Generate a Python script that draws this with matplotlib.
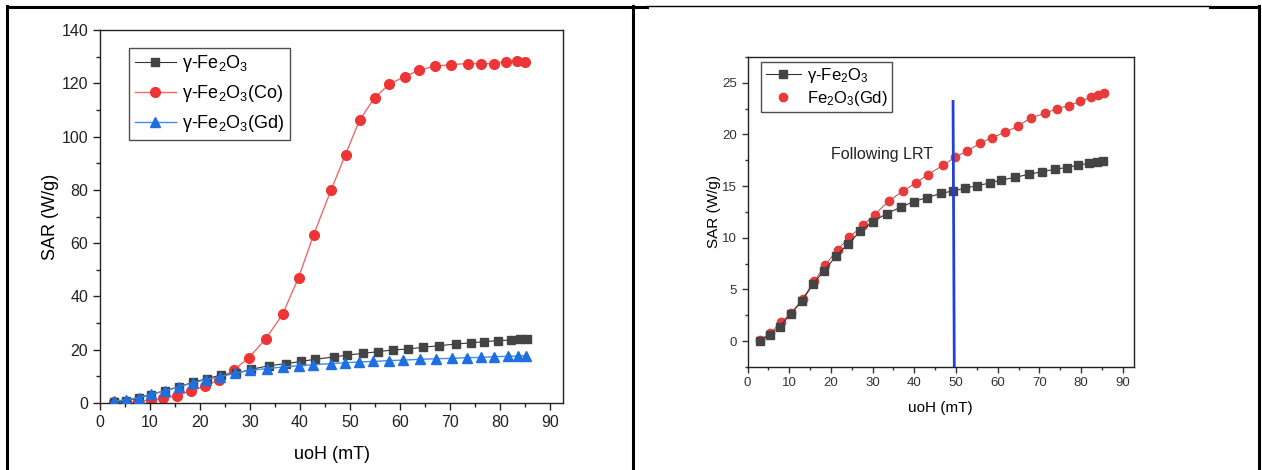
import matplotlib
matplotlib.use("Agg")
import matplotlib.pyplot as plt
from matplotlib.lines import Line2D
from matplotlib.ticker import MultipleLocator

plt.rcParams['font.family'] = ['Liberation Sans', 'DejaVu Sans']
plt.rcParams['mathtext.fontset'] = 'custom'
plt.rcParams['mathtext.rm'] = 'Liberation Sans'
plt.rcParams['mathtext.it'] = 'Liberation Sans:italic'
plt.rcParams['mathtext.bf'] = 'Liberation Sans:bold'

# ---------------- Left panel data ----------------
left_x_fe = [2.8, 5.1, 7.7, 10.2, 12.9, 15.7, 18.5, 21.3, 24.2, 27.1, 30.1, 33.8, 37.1, 40.2, 43.0,
             46.7, 49.4, 52.5, 55.5, 58.5, 61.5, 64.6, 67.7, 71.1, 74.2, 76.8, 79.5, 82.1, 83.9, 85.4]
left_y_fe = [0.3, 0.9, 1.9, 3.1, 4.6, 6.0, 7.75, 9.1, 10.5, 11.1, 12.6, 14.0, 14.75, 15.6, 16.4,
             17.25, 18.0, 18.6, 19.25, 19.9, 20.25, 20.9, 21.5, 22.1, 22.6, 23.0, 23.4, 23.6, 23.9, 24.0]

left_x_co = [2.8, 5.2, 7.6, 10.1, 12.6, 15.3, 18.1, 21.0, 23.8, 26.8, 29.8, 33.1, 36.5, 39.7, 42.7,
             46.2, 49.1, 51.9, 54.9, 57.8, 60.9, 63.8, 66.9, 70.2, 73.5, 76.2, 78.7, 81.1, 83.3, 84.9]
left_y_co = [0.3, 0.25, 0.6, 1.1, 1.7, 2.75, 4.5, 6.25, 8.75, 12.5, 17.0, 24.0, 33.25, 47.0, 63.0,
             79.9, 93.25, 106.1, 114.5, 119.6, 122.5, 124.9, 126.4, 127.0, 127.4, 127.4, 127.4, 128.1, 128.4, 127.9]

left_x_gd = [2.8, 5.1, 7.7, 10.2, 12.9, 15.7, 18.5, 21.1, 24.0, 27.0, 29.9, 33.3, 36.5, 39.7, 42.6,
             46.2, 49.0, 51.8, 54.6, 57.7, 60.6, 63.9, 67.1, 70.3, 73.3, 76.2, 78.7, 81.5, 83.5, 85.1]
left_y_gd = [0.6, 1.25, 2.0, 3.4, 4.4, 6.1, 7.5, 8.75, 9.9, 11.1, 12.25, 12.9, 13.5, 14.0, 14.4,
             14.75, 15.1, 15.4, 15.6, 15.9, 16.1, 16.4, 16.6, 16.75, 17.0, 17.1, 17.4, 17.5, 17.6, 17.75]

left_labels = [r'γ-Fe$_2$O$_3$', r'γ-Fe$_2$O$_3$(Co)', r'γ-Fe$_2$O$_3$(Gd)']

# ---------------- Right panel data ----------------
right_x_fe = [3.06, 5.35, 7.7, 10.4, 13.0, 15.7, 18.3, 21.3, 24.1, 27.1, 30.0, 33.4, 36.9, 39.9, 43.0,
              46.4, 49.4, 52.1, 55.0, 58.1, 60.9, 64.2, 67.4, 70.7, 73.8, 76.6, 79.3, 81.9, 83.9, 85.3]
right_y_fe = [0.06, 0.6, 1.4, 2.65, 3.85, 5.5, 6.8, 8.25, 9.4, 10.65, 11.55, 12.35, 13.0, 13.5, 13.9,
              14.3, 14.55, 14.8, 15.05, 15.3, 15.6, 15.85, 16.15, 16.4, 16.65, 16.8, 17.05, 17.2, 17.3, 17.4]

right_x_gd = [3.06, 5.5, 8.0, 10.5, 13.2, 16.0, 18.7, 21.6, 24.4, 27.7, 30.5, 34.0, 37.2, 40.3, 43.2,
              47.0, 49.8, 52.7, 55.8, 58.6, 61.8, 64.8, 67.9, 71.3, 74.3, 77.0, 79.8, 82.4, 84.0, 85.6]
right_y_gd = [0.13, 0.8, 1.84, 2.7, 4.1, 5.8, 7.4, 8.85, 10.05, 11.2, 12.25, 13.6, 14.5, 15.3, 16.1,
              17.05, 17.8, 18.4, 19.15, 19.7, 20.2, 20.8, 21.6, 22.05, 22.5, 22.8, 23.2, 23.6, 23.85, 24.0]

right_labels = [r'γ-Fe$_2$O$_3$', r'Fe$_2$O$_3$(Gd)']
lrt_x = [49.3, 49.6]
lrt_y = [23.2, -2.6]
lrt_text = 'Following LRT'

xlabel = 'uoH (mT)'
ylabel = 'SAR (W/g)'

W, H = 1262, 470
fig = plt.figure(figsize=(W / 100, H / 100), dpi=100)


def style_axes(ax, fs_tick, major_len, minor_len, xminor, yminor, color):
    ax.xaxis.set_minor_locator(MultipleLocator(xminor))
    ax.yaxis.set_minor_locator(MultipleLocator(yminor))
    ax.tick_params(which='both', direction='out', top=False, right=False,
                   labelsize=fs_tick, width=1.0, colors=color)
    ax.tick_params(which='major', length=major_len)
    ax.tick_params(which='minor', length=minor_len)
    for s in ax.spines.values():
        s.set_linewidth(1.0)
        s.set_color('#222222')


# ---------------- Left axes ----------------
axL = fig.add_axes([100 / W, 1 - 403 / H, 463 / W, 373 / H])
axL.plot(left_x_fe, left_y_fe, color='#333333', lw=0.8, marker='s', ms=6.2,
         mfc='#444444', mec='#444444', label=left_labels[0], zorder=3)
axL.plot(left_x_co, left_y_co, color='#f06a6a', lw=1.0, marker='o', ms=7.0,
         mfc='#ee3535', mec='#ee3535', label=left_labels[1], zorder=2)
axL.plot(left_x_gd, left_y_gd, color='#3c8ee8', lw=1.0, marker='^', ms=7.0,
         mfc='#1f6fe0', mec='#1f6fe0', label=left_labels[2], zorder=4)
axL.set_xlim(0, 92.6)
axL.set_ylim(0, 140)
axL.xaxis.set_major_locator(MultipleLocator(10))
axL.yaxis.set_major_locator(MultipleLocator(20))
style_axes(axL, 11.5, 5, 3, 5, 10, '#222222')
axL.set_xlabel(xlabel, fontsize=13, labelpad=12)
axL.set_ylabel(ylabel, fontsize=13, labelpad=2)
legL = axL.legend(loc='upper left', bbox_to_anchor=(0.063, 0.952), borderaxespad=0,
                  fontsize=13, frameon=True, fancybox=False, edgecolor='#222222',
                  handlelength=2.3, handletextpad=0.35, labelspacing=0.5,
                  borderpad=0.3)
legL.get_frame().set_linewidth(1.0)

# ---------------- Right axes ----------------
axR = fig.add_axes([747.5 / W, 1 - 367 / H, 386.5 / W, 310 / H])
axR.plot(right_x_fe, right_y_fe, color='#333333', lw=0.8, marker='s', ms=5.2,
         mfc='#444444', mec='#444444', label=right_labels[0], zorder=3)
axR.plot(right_x_gd, right_y_gd, color='#b84a4a', lw=0.7, marker='o', ms=6.0,
         mfc='#e83b3b', mec='#e83b3b', zorder=2)
axR.plot([], [], ls='none', marker='o', ms=6.0, mfc='#e83b3b', mec='#e83b3b',
         label=right_labels[1])
axR.plot(lrt_x, lrt_y, color='#2440d8', lw=2.0, zorder=5, clip_on=True)
axR.text(32.3, 18.1, lrt_text, fontsize=11.5, ha='center', va='center', color='#222222')
axR.set_xlim(0, 92.7)
axR.set_ylim(-2.5, 27.5)
axR.xaxis.set_major_locator(MultipleLocator(10))
axR.yaxis.set_major_locator(MultipleLocator(5))
style_axes(axR, 9.5, 4, 2.5, 5, 2.5, '#333333')
axR.set_xlabel(xlabel, fontsize=11, labelpad=8.5)
axR.set_ylabel(ylabel, fontsize=11, labelpad=1)
legR = axR.legend(loc='upper left', bbox_to_anchor=(0.036, 0.984), borderaxespad=0,
                  fontsize=12, frameon=True, fancybox=False, edgecolor='#222222',
                  handlelength=2.1, handletextpad=0.4, labelspacing=0.25,
                  borderpad=0.25)
legR.get_frame().set_linewidth(1.0)

# ---------------- Table-like frame lines ----------------
def fline(x0, y0, x1, y1, lw):
    fig.add_artist(Line2D([x0 / W, x1 / W], [1 - y0 / H, 1 - y1 / H],
                          color='black', lw=lw, transform=fig.transFigure))

fline(7, 6.5, 647, 6.5, 2.2)
fline(647, 6, 1210, 6, 1.0)
fline(1210, 7, 1259, 7, 2.2)
fline(7, 5.5, 7, 470, 2.2)
fline(633, 5.5, 633, 470, 2.2)
fline(1259, 6, 1259, 470, 2.2)

fig.savefig('out.png', dpi=100)
